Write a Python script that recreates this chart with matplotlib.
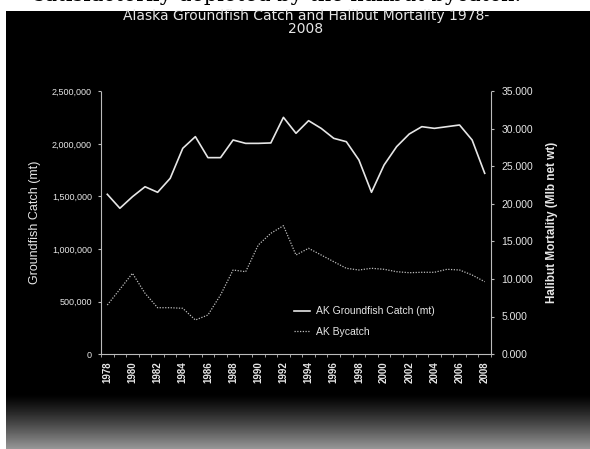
import numpy as np
import matplotlib
matplotlib.use("Agg")
import matplotlib.pyplot as plt
from matplotlib.ticker import FuncFormatter, FixedLocator
from matplotlib.patches import Rectangle

# Alaska groundfish catch (mt) and halibut bycatch mortality, 1978-2008
years = list(range(1978, 2009))
catch_mt = [1521000, 1388000, 1498000, 1593000, 1540000, 1673000, 1959000, 2070000,
            1870000, 1870000, 2038000, 2006000, 2006000, 2010000, 2254000, 2102000,
            2222000, 2149000, 2054000, 2022000, 1848000, 1540000, 1800000, 1975000,
            2095000, 2165000, 2149000, 2165000, 2181000, 2038000, 1721000]
bycatch = [6533, 8627, 10760, 8093, 6173, 6173, 6093, 4533,
           5200, 7867, 11200, 10973, 14533, 16093, 17107, 13200,
           14093, 13200, 12307, 11427, 11200, 11427, 11293, 10973,
           10840, 10893, 10893, 11293, 11200, 10533, 9640]

FG = "#e6e6e6"
FONT = "Liberation Sans"

fig = plt.figure(figsize=(5.9, 4.49), dpi=100)
fig.patch.set_facecolor("white")

# black chart area (page scan leaves a white margin top/left)
fig.add_artist(Rectangle((6 / 590, 0), 1, 1 - 11 / 449, transform=fig.transFigure,
                         facecolor="black", edgecolor="none", zorder=0))

# page text running into the top of the chart, mostly hidden behind it
fig.text(0.47, 1 - 1 / 449, "satisfactorily depleted by the halibut bycatch.",
         ha="center", va="baseline", family="DejaVu Serif", fontsize=15,
         color="black", zorder=-1)

# grey scan haze along the bottom
haze = fig.add_axes([6 / 590, 0, 1 - 6 / 590, 55 / 449])
grad = np.linspace(0, 1, 55)[:, None] ** 1.2
haze.imshow(np.repeat(grad, 10, axis=1), cmap="gray", vmin=0, vmax=1.7,
            aspect="auto", extent=[0, 1, 0, 1], origin="upper")
haze.axis("off")

ax = fig.add_axes([101 / 590, 1 - 354 / 449, 390 / 590, 262.5 / 449])
ax.set_facecolor("none")
x = np.arange(len(years))
l1, = ax.plot(x, catch_mt, color=FG, lw=1.2, label="AK Groundfish Catch (mt)")
ax.set_xlim(-0.5, len(years) - 0.5)
ax.set_ylim(0, 2500000)
ax.yaxis.set_major_locator(FixedLocator(range(0, 2500001, 500000)))
ax.yaxis.set_major_formatter(FuncFormatter(lambda v, p: f"{int(v):,}"))

ax2 = ax.twinx()
l2, = ax2.plot(x, bycatch, color="#bdbdbd", lw=0.9, ls=(0, (1, 1.2)), label="AK Bycatch")
ax2.set_ylim(0, 35000)
ax2.yaxis.set_major_locator(FixedLocator(range(0, 35001, 5000)))
ax2.yaxis.set_major_formatter(FuncFormatter(lambda v, p: f"{v / 1000:.3f}"))

ax.set_xticks(x[::2])
ax.set_xticklabels([str(y) for y in years[::2]], rotation=90, fontsize=7,
                   fontweight="bold", color=FG, family=FONT)
ax.set_xticks(np.arange(-0.5, len(years), 1), minor=True)

for a in (ax, ax2):
    for s in a.spines.values():
        s.set_visible(False)
ax.spines["left"].set_visible(True)
ax.spines["bottom"].set_visible(True)
ax2.spines["right"].set_visible(True)
for s in (ax.spines["left"], ax.spines["bottom"], ax2.spines["right"]):
    s.set_color("#bbbbbb")
    s.set_linewidth(0.8)
    s.set_linestyle((0, (2, 1)))

ax.tick_params(axis="x", which="major", length=0, pad=5)
ax.tick_params(axis="x", which="minor", length=2.5, color="#bbbbbb", direction="out")
ax.tick_params(axis="y", length=2.5, color="#bbbbbb", labelsize=6.5, labelcolor=FG, pad=4)
ax2.tick_params(axis="y", length=2.5, color="#bbbbbb", labelsize=7.5, labelcolor=FG, pad=5)
for lab in ax.get_yticklabels() + ax2.get_yticklabels():
    lab.set_family(FONT)

ax.set_ylabel("Groundfish Catch (mt)", color=FG, fontsize=9, family=FONT, labelpad=8)
ax2.set_ylabel("Halibut Mortality (Mlb net wt)", color=FG, fontsize=8.5, family=FONT,
               fontweight="bold", labelpad=9)

# two-line chart title
fig.text(306 / 590, 1 - 16 / 449, "Alaska Groundfish Catch and Halibut Mortality 1978-",
         ha="center", va="center", color=FG, fontsize=10, family="DejaVu Sans")
fig.text(306 / 590, 1 - 29 / 449, "2008",
         ha="center", va="center", color=FG, fontsize=10, family="DejaVu Sans")

leg = ax.legend(handles=[l1, l2], loc="lower left", bbox_to_anchor=(0.47, 0.03),
                frameon=False, handlelength=1.6, handletextpad=0.5, labelspacing=1.0,
                prop={"family": FONT, "size": 7.5})
for t in leg.get_texts():
    t.set_color(FG)

fig.savefig("out.png", dpi=100, facecolor=fig.get_facecolor())
